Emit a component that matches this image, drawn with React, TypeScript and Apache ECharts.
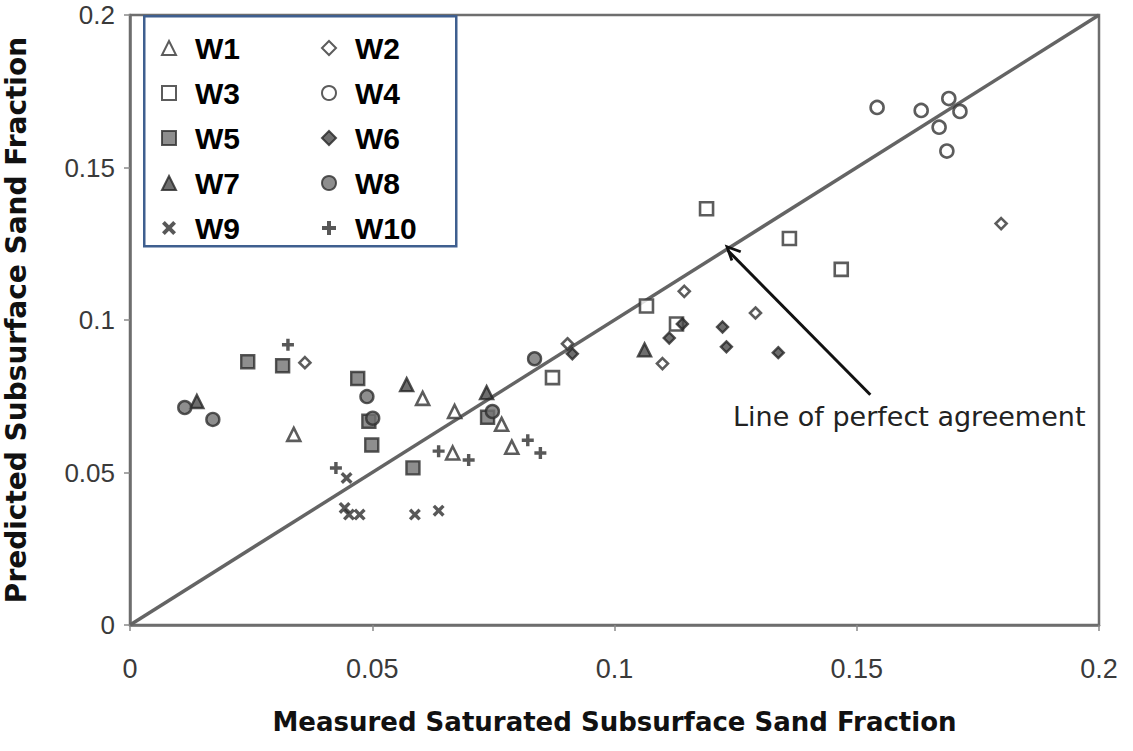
import React, { useEffect, useRef } from "react";
import * as echarts from "echarts";

const seriesNames = ["W1", "W2", "W3", "W4", "W5", "W6", "W7", "W8", "W9", "W10"];
const w1 = [[0.0338, 0.0625], [0.0604, 0.0743], [0.067, 0.07], [0.0767, 0.0658], [0.0788, 0.0583], [0.0666, 0.0564]];
const w2 = [[0.0361, 0.086], [0.0903, 0.0922], [0.1099, 0.0857], [0.1144, 0.1094], [0.1291, 0.1023], [0.1798, 0.1316]];
const w3 = [[0.0872, 0.0811], [0.1066, 0.1046], [0.1128, 0.0987], [0.119, 0.1365], [0.1361, 0.1267], [0.1468, 0.1166]];
const w4 = [[0.1542, 0.1697], [0.1633, 0.1687], [0.169, 0.1726], [0.1713, 0.1684], [0.167, 0.1632], [0.1686, 0.1554]];
const w5 = [[0.0243, 0.0863], [0.0315, 0.085], [0.047, 0.0808], [0.0493, 0.0668], [0.0499, 0.059], [0.0584, 0.0515], [0.0738, 0.0681]];
const w6 = [[0.0913, 0.0889], [0.1113, 0.0941], [0.114, 0.0987], [0.1223, 0.0977], [0.1231, 0.0912], [0.1338, 0.0893]];
const w7 = [[0.0138, 0.0733], [0.0571, 0.0788], [0.0736, 0.0762], [0.1062, 0.0902]];
const w8 = [[0.0113, 0.0713], [0.0171, 0.0674], [0.0489, 0.0749], [0.0501, 0.0678], [0.0748, 0.07], [0.0835, 0.0873]];
const w9 = [[0.0447, 0.0482], [0.0443, 0.0384], [0.0452, 0.0362], [0.0474, 0.0362], [0.0588, 0.0362], [0.0637, 0.0375]];
const w10 = [[0.0326, 0.0919], [0.0425, 0.0515], [0.0637, 0.057], [0.0699, 0.0541], [0.0821, 0.0606], [0.0847, 0.0564]];
const agreementLine = [[0, 0], [0.2, 0.2]];
const arrowFrom = [0.1528, 0.0755];
const arrowTo = [0.1234, 0.1228];
const annotationText = "Line of perfect agreement";
const xTitle = "Measured Saturated Subsurface Sand Fraction";
const yTitle = "Predicted Subsurface Sand Fraction";

const CROSS = "path://M0,2.8 L2.8,0 L7,4.2 L11.2,0 L14,2.8 L9.8,7 L14,11.2 L11.2,14 L7,9.8 L2.8,14 L0,11.2 L4.2,7 Z";
const PLUS = "path://M5,0 H9 V5 H14 V9 H9 V14 H5 V9 H0 V5 H5 Z";
const CHEVRON = "path://M0,15 L7,0 L14,15 L11.6,16 L7,6 L2.4,16 Z";

const openStyle = { color: "#ffffff", borderColor: "#333333", borderWidth: 2.6 };
const filledStyle = { color: "#727272", borderColor: "#2e2e2e", borderWidth: 2.4 };
const darkStyle = { color: "#4a4a4a", borderColor: "#262626", borderWidth: 2.4 };
const glyphStyle = { color: "#2e2e2e", borderWidth: 0 };

export default function App() {
  const ref = useRef<HTMLDivElement>(null);
  useEffect(() => {
    if (!ref.current) return;
    const chart = echarts.init(ref.current, null, { renderer: "svg" });
    const dataSets = [w1, w2, w3, w4, w5, w6, w7, w8, w9, w10];
    const symbols = ["triangle", "diamond", "rect", "circle", "rect", "diamond", "triangle", "circle", CROSS, PLUS];
    const sizes = [13, 11, 13, 13, 13, 11, 13, 13, 12, 12];
    const styles = [openStyle, openStyle, openStyle, openStyle, filledStyle, darkStyle, darkStyle, filledStyle, glyphStyle, glyphStyle];
    const scatterSeries = seriesNames.map((name, i) => ({
      name,
      type: "scatter",
      data: dataSets[i],
      symbol: symbols[i],
      symbolSize: sizes[i],
      itemStyle: styles[i],
      z: 3,
    }));
    const legendText = {
      fontFamily: "Liberation Sans, Arial, sans-serif",
      fontWeight: "bold",
      fontSize: 30,
      color: "#000",
      lineHeight: 30,
      padding: [0, 0, 0, 14],
    };
    const option: any = {
      animation: false,
      backgroundColor: "#ffffff",
      grid: {
        left: 130,
        right: 34,
        top: 15,
        bottom: 126,
        outerBoundsMode: "none",
        containLabel: false,
        show: true,
        borderColor: "#6e6e6e",
        borderWidth: 2.5,
      },
      xAxis: {
        type: "value",
        min: 0,
        max: 0.2,
        interval: 0.05,
        name: xTitle,
        nameLocation: "middle",
        nameGap: 84,
        nameTextStyle: {
          fontFamily: "DejaVu Sans, sans-serif",
          fontWeight: "bold",
          fontSize: 26,
          color: "#111",
        },
        axisLine: { show: true, lineStyle: { color: "#6e6e6e", width: 2.5 } },
        axisTick: { show: true, length: 6, lineStyle: { color: "#8a8a8a", width: 1.5 } },
        axisLabel: {
          margin: 30,
          fontFamily: "Liberation Sans, Arial, sans-serif",
          fontSize: 27,
          color: "#3a3a3a",
          formatter: (v: number) => String(Number(v.toFixed(2))),
        },
        splitLine: { show: false },
      },
      yAxis: {
        type: "value",
        min: 0,
        max: 0.2,
        interval: 0.05,
        name: yTitle,
        nameLocation: "middle",
        nameGap: 100,
        nameTextStyle: {
          fontFamily: "DejaVu Sans, sans-serif",
          fontWeight: "bold",
          fontSize: 28,
          color: "#111",
        },
        axisLine: { show: true, lineStyle: { color: "#6e6e6e", width: 2.5 } },
        axisTick: { show: true, length: 6, lineStyle: { color: "#8a8a8a", width: 1.5 } },
        axisLabel: {
          margin: 15,
          fontFamily: "Liberation Sans, Arial, sans-serif",
          fontSize: 26,
          lineHeight: 22,
          color: "#3a3a3a",
          formatter: (v: number) => String(Number(v.toFixed(2))),
        },
        splitLine: { show: false },
      },
      legend: [
        {
          orient: "vertical",
          left: 156,
          top: 28,
          itemWidth: 14,
          itemHeight: 14,
          itemGap: 15,
          data: ["W1", "W3", "W5", "W7", "W9"],
          textStyle: legendText,
          selectedMode: false,
          z: 10,
        },
        {
          orient: "vertical",
          left: 316,
          top: 28,
          itemWidth: 14,
          itemHeight: 14,
          itemGap: 15,
          data: ["W2", "W4", "W6", "W8", "W10"],
          textStyle: legendText,
          selectedMode: false,
          z: 10,
        },
      ],
      graphic: [
        {
          type: "rect",
          left: 143,
          top: 15,
          shape: { width: 312, height: 230 },
          style: { fill: "#ffffff", stroke: "#3f5f8f", lineWidth: 2.5 },
          z: 5,
        },
        {
          type: "text",
          x: 733,
          y: 416,
          style: {
            text: annotationText,
            font: "27px 'DejaVu Sans', sans-serif",
            fill: "#222",
            verticalAlign: "middle",
            align: "left",
          },
          z: 6,
        },
      ],
      series: [
        {
          name: "agreement",
          type: "line",
          data: agreementLine,
          symbol: "none",
          lineStyle: { color: "#646464", width: 3.5 },
          z: 2,
          silent: true,
          markLine: {
            silent: true,
            symbol: ["none", CHEVRON],
            symbolSize: [15, 17],
            symbolOffset: [0, 2],
            label: { show: false },
            itemStyle: { color: "#111" },
            lineStyle: { color: "#111", width: 3, type: "solid" },
            data: [[{ coord: arrowFrom }, { coord: arrowTo }]],
          },
        },
        ...scatterSeries,
      ],
    };
    chart.setOption(option);
    return () => chart.dispose();
  }, []);
  return (
    <div
      ref={ref}
      style={{ position: "fixed", left: 0, top: 0, width: 1133, height: 751, background: "#fff" }}
    />
  );
}
